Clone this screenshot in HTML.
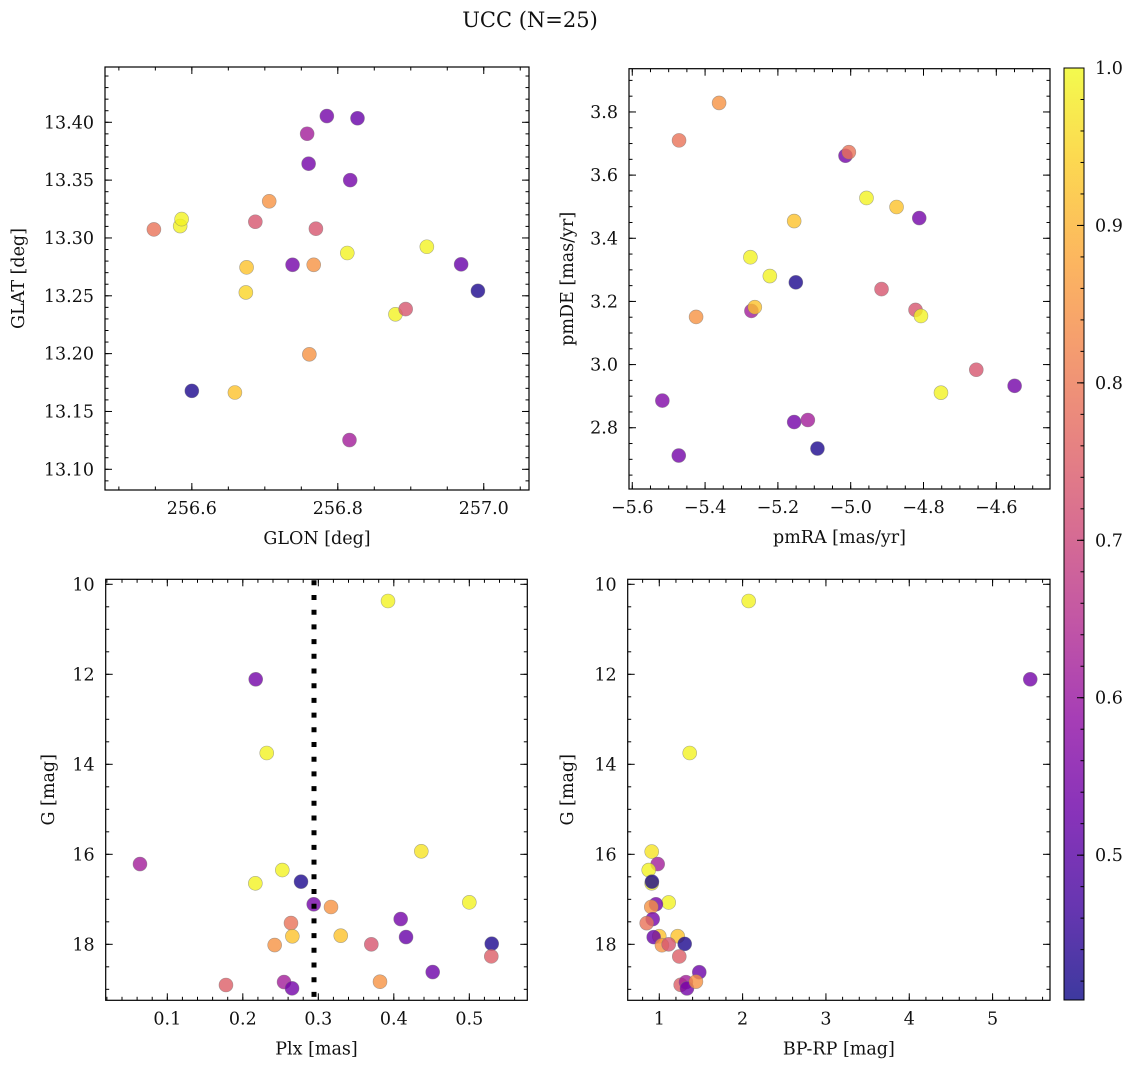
<!DOCTYPE html>
<html><head><meta charset="utf-8">
<style>
html,body{margin:0;padding:0;background:#fff;}
svg{display:block;font-family:"DejaVu Serif","Liberation Serif",serif;}
</style></head>
<body>
<svg id="fig" width="1136" height="1067" viewBox="0 0 1136 1067" xmlns="http://www.w3.org/2000/svg">
<text x="530" y="27" font-size="21" text-anchor="middle" fill="#111">UCC (N=25)</text>
</svg>
<script>
// ---- Panel 1: GLON / GLAT ----
const glonP1 = [256.548,256.584,256.586,256.600,256.659,256.675,256.674,256.687,256.706,256.738,256.758,256.760,256.761,256.767,256.770,256.785,256.813,256.817,256.816,256.827,256.879,256.893,256.922,256.969,256.992];
const glatP1 = [13.3074,13.3103,13.3163,13.1678,13.1664,13.2746,13.2529,13.314,13.3317,13.2768,13.3901,13.3642,13.1994,13.2768,13.308,13.4054,13.287,13.350,13.1253,13.4035,13.234,13.2385,13.2924,13.2772,13.2543];
const probP1 = [0.789,0.99,0.99,0.425,0.923,0.923,0.95,0.732,0.847,0.54,0.617,0.54,0.847,0.847,0.732,0.54,0.99,0.54,0.617,0.52,0.99,0.732,0.99,0.52,0.425];
// ---- Panel 2: pmRA / pmDE ----
const pmraP2 = [-5.3615,-5.4715,-5.0143,-5.005,-4.9566,-4.874,-4.8117,-5.1553,-5.2755,-5.2221,-5.1507,-4.9153,-5.2727,-5.2634,-5.4247,-4.8219,-4.807,-4.655,-4.752,-4.5497,-5.5174,-5.1553,-5.1177,-5.0913,-5.4723];
const pmdeP2 = [3.8286,3.71,3.6613,3.6727,3.5277,3.499,3.464,3.4545,3.340,3.2804,3.2604,3.239,3.170,3.1818,3.151,3.1732,3.154,2.9836,2.911,2.9327,2.8859,2.8181,2.8245,2.7341,2.7119];
const probP2 = [0.847,0.789,0.54,0.789,0.99,0.923,0.54,0.923,0.99,0.99,0.425,0.732,0.617,0.923,0.847,0.732,0.99,0.732,0.99,0.54,0.56,0.54,0.617,0.425,0.54];
// ---- Panel 3: Plx / G ----
const plxP3 = [0.3923,0.2171,0.2317,0.4364,0.0638,0.2523,0.2166,0.2771,0.5,0.2939,0.3168,0.4091,0.2638,0.2656,0.3297,0.4162,0.2422,0.3702,0.5297,0.5291,0.4515,0.1777,0.2546,0.2652,0.3817];
const gmagP3 = [10.371,12.111,13.749,15.933,16.216,16.349,16.645,16.608,17.067,17.111,17.171,17.438,17.527,17.822,17.808,17.838,18.016,18.0,17.987,18.267,18.616,18.904,18.838,18.978,18.831];
const probP3 = [0.99,0.54,0.99,0.97,0.617,0.99,0.99,0.425,0.99,0.54,0.847,0.54,0.789,0.923,0.923,0.52,0.847,0.732,0.425,0.75,0.53,0.75,0.617,0.54,0.847];
const plxCut = [0.2943];
// ---- Panel 4: BP-RP / G ----
const bprpP4 = [2.073,5.452,1.365,0.909,0.981,0.873,0.909,0.912,1.113,0.960,0.904,0.921,0.849,1.221,1.000,0.933,1.032,1.113,1.305,1.240,1.480,1.257,1.320,1.332,1.440];
const gmagP4 = [10.371,12.111,13.749,15.94,16.216,16.35,16.645,16.608,17.07,17.11,17.17,17.44,17.53,17.82,17.82,17.84,18.02,18.0,17.99,18.27,18.62,18.90,18.84,18.98,18.83];
const probP4 = [0.99,0.54,0.99,0.97,0.617,0.99,0.99,0.425,0.99,0.54,0.847,0.54,0.789,0.923,0.923,0.52,0.847,0.732,0.425,0.75,0.53,0.75,0.617,0.54,0.847];
// ---- Colorbar ----
const cbarTicks = [0.5,0.6,0.7,0.8,0.9,1.0];
const cbarMin = 0.408, cbarMax = 1.0;

const NS = "http://www.w3.org/2000/svg";
const svg = document.getElementById('fig');
function el(tag, attrs, parent){ const e=document.createElementNS(NS,tag); for(const k in attrs) e.setAttribute(k,attrs[k]); (parent||svg).appendChild(e); return e; }

const plasmaStops = ["#0d0887","#41049d","#6a00a8","#8f0da4","#b12a90","#cc4778","#e16462","#f2844b","#fca636","#fcce25","#f0f921"];
function hex(h){ return [parseInt(h.substr(1,2),16),parseInt(h.substr(3,2),16),parseInt(h.substr(5,2),16)]; }
function plasma(t){ t=Math.max(0,Math.min(1,t)); const f=t*10; const i=Math.min(9,Math.floor(f)); const u=f-i; const a=hex(plasmaStops[i]), b=hex(plasmaStops[i+1]); return 'rgb('+a.map((v,k)=>Math.round(v+(b[k]-v)*u)).join(',')+')'; }
function probColor(p){ return plasma((p-cbarMin)/(cbarMax-cbarMin)); }

function fmt(v,d){ let s=v.toFixed(d); if(s.startsWith('-')) s='\u2212'+s.slice(1); return s; }

function makePanel(cfg){
  const g = el('g',{});
  
  
  const sx = v => cfg.L + (v-cfg.xmin)/(cfg.xmax-cfg.xmin)*(cfg.R-cfg.L);
  const sy = cfg.invert ? (v => cfg.T + (v-cfg.ymin)/(cfg.ymax-cfg.ymin)*(cfg.B-cfg.T))
                        : (v => cfg.B - (v-cfg.ymin)/(cfg.ymax-cfg.ymin)*(cfg.B-cfg.T));
  const pts = el('g',{},g);
  
  
  for(let i=0;i<cfg.xs.length;i++){
    const c = el('circle',{cx:sx(cfg.xs[i]).toFixed(2),cy:sy(cfg.ys[i]).toFixed(2),r:7,fill:probColor(cfg.ps[i]),'fill-opacity':0.8,stroke:'#777','stroke-opacity':0.6,'stroke-width':0.6},pts);
    
    
  }
  if(cfg.extra) cfg.extra(g,sx,sy);
  const fr = el('rect',{x:cfg.L,y:cfg.T,width:cfg.R-cfg.L,height:cfg.B-cfg.T,fill:'none',stroke:'#000','stroke-width':1.2},g);
  
  
  const tk = el('g',{stroke:'#000','stroke-width':1},g);
  function ticks(min,max,step){ const out=[]; const a=Math.ceil(min/step-1e-6), b=Math.floor(max/step+1e-6); for(let k=a;k<=b;k++) out.push(+(k*step).toFixed(6)); return out; }
  const xMaj = ticks(cfg.xmin,cfg.xmax,cfg.xstep), xMin = ticks(cfg.xmin,cfg.xmax,cfg.xminor);
  const yMaj = ticks(cfg.ymin,cfg.ymax,cfg.ystep), yMin = ticks(cfg.ymin,cfg.ymax,cfg.yminor);
  xMin.forEach(v=>{ const x=sx(v); el('line',{x1:x,x2:x,y1:cfg.B,y2:cfg.B-3.5},tk); el('line',{x1:x,x2:x,y1:cfg.T,y2:cfg.T+3.5},tk); });
  yMin.forEach(v=>{ const y=sy(v); el('line',{x1:cfg.L,x2:cfg.L+3.5,y1:y,y2:y},tk); el('line',{x1:cfg.R,x2:cfg.R-3.5,y1:y,y2:y},tk); });
  xMaj.forEach(v=>{ const x=sx(v); el('line',{x1:x,x2:x,y1:cfg.B,y2:cfg.B-7},tk); el('line',{x1:x,x2:x,y1:cfg.T,y2:cfg.T+7},tk);
    const t=el('text',{x:x,y:cfg.B+24,'font-size':17.5,'text-anchor':'middle',fill:'#111'},g); t.textContent=fmt(v,cfg.xdec);
    
     });
  yMaj.forEach(v=>{ const y=sy(v); el('line',{x1:cfg.L,x2:cfg.L+7,y1:y,y2:y},tk); el('line',{x1:cfg.R,x2:cfg.R-7,y1:y,y2:y},tk);
    const t=el('text',{x:cfg.L-11,y:y+6,'font-size':17.5,'text-anchor':'end',fill:'#111'},g); t.textContent=fmt(v,cfg.ydec);
    
     });
  const xl = el('text',{x:(cfg.L+cfg.R)/2,y:cfg.B+54,'font-size':17.5,'text-anchor':'middle',fill:'#111'},g);
  xl.textContent = cfg.xlabel;
  
  
  const yl = el('text',{x:0,y:0,'font-size':17.5,'text-anchor':'middle',fill:'#111',transform:'translate('+(cfg.ylx)+','+((cfg.T+cfg.B)/2)+') rotate(-90)'},g);
  yl.textContent = cfg.ylabel;
  
  
}

makePanel({name:'glon-glat-panel',L:105,R:529,T:67,B:490,xmin:256.481,xmax:257.062,ymin:13.0821,ymax:13.4478,
  xstep:0.2,xminor:0.05,ystep:0.05,yminor:0.01,xdec:1,ydec:2,xs:glonP1,ys:glatP1,ps:probP1,xlabel:'GLON [deg]',ylabel:'GLAT [deg]',ylx:24});
makePanel({name:'pm-panel',L:629,R:1050,T:68.7,B:489,xmin:-5.609,xmax:-4.4525,ymin:2.606,ymax:3.937,
  xstep:0.2,xminor:0.05,ystep:0.2,yminor:0.05,xdec:1,ydec:1,xs:pmraP2,ys:pmdeP2,ps:probP2,xlabel:'pmRA [mas/yr]',ylabel:'pmDE [mas/yr]',ylx:573});
makePanel({name:'plx-g-panel',L:105.7,R:527.3,T:579.3,B:1000.3,xmin:0.0184,xmax:0.5768,ymin:9.889,ymax:19.244,invert:true,
  xstep:0.1,xminor:0.02,ystep:2,yminor:0.5,xdec:1,ydec:0,xs:plxP3,ys:gmagP3,ps:probP3,xlabel:'Plx [mas]',ylabel:'G [mag]',ylx:54,
  extra:(g,sx,sy)=>{ plxCut.forEach(v=>{ const ln=el('line',{x1:sx(v),x2:sx(v),y1:579.3,y2:1000.3,stroke:'#000','stroke-width':5,'stroke-dasharray':'5 9.7','stroke-dashoffset':-1},g);
    
     }); }});
makePanel({name:'cmd-panel',L:627.7,R:1050,T:579.3,B:1000.3,xmin:0.621,xmax:5.689,ymin:9.889,ymax:19.244,invert:true,
  xstep:1,xminor:0.2,ystep:2,yminor:0.5,xdec:0,ydec:0,xs:bprpP4,ys:gmagP4,ps:probP4,xlabel:'BP-RP [mag]',ylabel:'G [mag]',ylx:573});

(function(){
  const L=1064,R=1084,T=68,B=1000;
  const defs=el('defs',{});
  const grad=el('linearGradient',{id:'cg',x1:0,y1:1,x2:0,y2:0},defs);
  plasmaStops.forEach((c,i)=>el('stop',{offset:(i/10),'stop-color':c},grad));
  const g=el('g',{});
  
  
  el('rect',{x:L,y:T,width:R-L,height:B-T,fill:'url(#cg)','fill-opacity':0.8},g);
  el('rect',{x:L,y:T,width:R-L,height:B-T,fill:'none',stroke:'#000','stroke-width':1},g);
  const sy=v=>B-(v-cbarMin)/(cbarMax-cbarMin)*(B-T);
  for(let k=Math.ceil(cbarMin/0.02);k<=50;k++){ const y=sy(k*0.02); el('line',{x1:R,x2:R-3.5,y1:y,y2:y,stroke:'#000'},g); }
  cbarTicks.forEach(v=>{ const y=sy(v); el('line',{x1:R,x2:R-7,y1:y,y2:y,stroke:'#000'},g);
    const t=el('text',{x:R+11,y:y+6,'font-size':17.5,fill:'#111'},g); t.textContent=v.toFixed(1);
    
     });
})();
</script>
</body></html>
